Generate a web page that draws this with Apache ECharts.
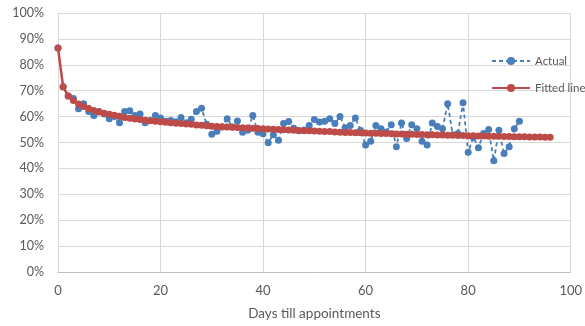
<!DOCTYPE html>
<html><head><meta charset="utf-8">
<script src="https://cdn.jsdelivr.net/npm/echarts@6/dist/echarts.min.js"></script>
<style>html,body{margin:0;padding:0;background:#fff}#c{width:585px;height:326px}</style>
</head><body><div id="c"></div>
<script>
// Days 0..90 (actual), 0..96 (fitted), values in %
const actualValues = [86.5,71.5,68,67,63,65,62,60.4,62,61,
59.2,60,57.6,62,62.3,60.4,61,57.6,58.5,60.4,
59.5,58.2,58.5,58,59.7,57.6,59,62,63.2,57,
53.2,54.3,56,59.2,56,58.3,54,54.7,60.4,54,
53.4,49.9,53,50.9,57.3,58.1,55.5,54.5,54.8,56.6,
58.9,57.9,58.2,59.2,57.3,60,55.7,56.6,59.5,54.7,
49,50.5,56.6,55.3,54.1,56.9,48.4,57.5,51.5,56.9,
55.3,50.5,49,57.5,56.2,55.3,65,53,53.5,65.3,
46.2,52,48,53.5,55,43,54.7,45.8,48.4,55.3,58.2];
const fittedValues = [86.5,71.5,68.0,66.2,64.9,63.9,63.1,62.4,61.8,61.3,
60.9,60.5,60.1,59.7,59.4,59.1,58.9,58.6,58.4,58.2,
58.0,57.8,57.6,57.4,57.3,57.1,57.0,56.8,56.7,56.5,
56.3,56.2,56.1,56.0,55.9,55.8,55.7,55.6,55.5,55.4,
55.3,55.2,55.1,55.0,54.9,54.8,54.7,54.6,54.5,54.5,
54.4,54.3,54.2,54.2,54.1,54.0,53.9,53.9,53.8,53.8,
53.7,53.6,53.6,53.5,53.5,53.4,53.3,53.3,53.2,53.2,
53.1,53.1,53.0,53.0,52.9,52.9,52.8,52.8,52.7,52.7,
52.6,52.6,52.5,52.5,52.4,52.4,52.4,52.3,52.3,52.2,
52.2,52.2,52.1,52.1,52.1,52.0,52.0];
const xTicks = {min:0, max:100, interval:20};
const yTicks = {min:0, max:100, interval:10};
const seriesNames = ['Actual','Fitted line'];

const toPairs = arr => arr.map((v,i)=>[i,v]);
const FONT = 'Lato';
const chart = echarts.init(document.getElementById('c'), null, {renderer:'canvas'});
chart.setOption({
  animation:false,
  textStyle:{fontFamily:FONT},
  grid:{left:58,right:10,top:13,bottom:51,containLabel:false},
  legend:{
    orient:'vertical', left:486, top:50, itemWidth:38, itemHeight:10, itemGap:15,
    textStyle:{color:'#595959',fontSize:11.5,fontFamily:FONT},
    data:seriesNames
  },
  xAxis:{
    type:'value', min:xTicks.min, max:xTicks.max, interval:xTicks.interval,
    name:'Days till appointments', nameLocation:'middle', nameGap:35,
    nameTextStyle:{color:'#595959',fontSize:13.5,fontFamily:FONT},
    axisLine:{show:true,lineStyle:{color:'#bfbfbf'}},
    axisTick:{show:false},
    axisLabel:{color:'#595959',fontSize:13,margin:12},
    splitLine:{show:true,lineStyle:{color:'#d9d9d9'}}
  },
  yAxis:{
    type:'value', min:yTicks.min, max:yTicks.max, interval:yTicks.interval,
    axisLine:{show:true,lineStyle:{color:'#d9d9d9'}},
    axisTick:{show:false},
    axisLabel:{color:'#595959',fontSize:12.5,formatter:'{value}%',margin:14},
    splitLine:{show:true,lineStyle:{color:'#d9d9d9'}}
  },
  series:[
    {name:seriesNames[0], type:'line', data:toPairs(actualValues),
     symbol:'circle', symbolSize:7,
     itemStyle:{color:'#4A7EBB'},
     lineStyle:{color:'#4A7EBB',width:1.8,type:[4,3]}, z:2},
    {name:seriesNames[1], type:'line', data:toPairs(fittedValues),
     symbol:'circle', symbolSize:7,
     itemStyle:{color:'#BE4B48'},
     lineStyle:{color:'#BE4B48',width:2.5}, z:3}
  ]
});
</script></body></html>
